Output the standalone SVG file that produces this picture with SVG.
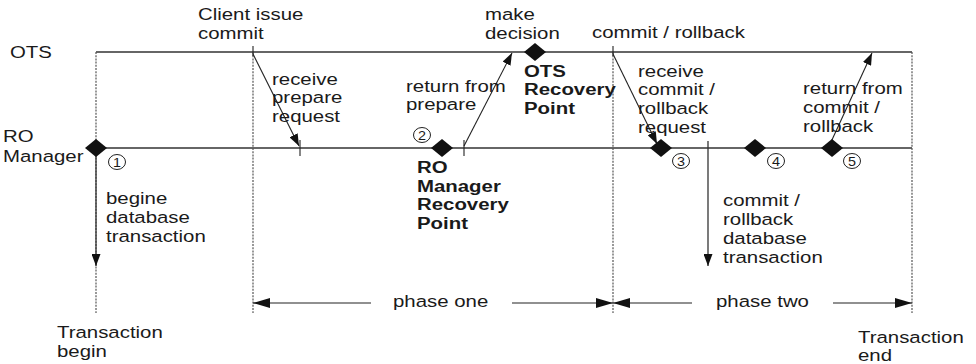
<svg xmlns="http://www.w3.org/2000/svg" width="976" height="364" viewBox="0 0 976 364">
  <style>
    text { font-family: "Liberation Sans", Arial, sans-serif; font-size: 17px; fill: #1a1a1a; }
    .b { font-weight: bold; }
    .num { font-size: 12.5px; text-anchor: middle; }
    .line { stroke: #333; stroke-width: 1.3; fill: none; }
    .thin { stroke: #222; stroke-width: 1.1; fill: none; }
    .dot { stroke: #555; stroke-width: 1.2; stroke-dasharray: 2 1.2; fill: none; }
    .dia { fill: #111; }
    .circ { fill: #fff; stroke: #222; stroke-width: 1; }
  </style>
  <defs>
    <marker id="ah" viewBox="0 0 12 9" refX="12" refY="4.5" markerWidth="12" markerHeight="9" markerUnits="userSpaceOnUse" orient="auto">
      <path d="M0,0 L12,4.5 L0,9 Z" fill="#111"/>
    </marker>
    <marker id="ahBig" viewBox="0 0 17 10" refX="17" refY="5" markerWidth="17" markerHeight="10" markerUnits="userSpaceOnUse" orient="auto">
      <path d="M0,0 L17,5 L0,10 Z" fill="#111"/>
    </marker>
  </defs>

  <!-- lanes -->
  <g id="lanes">
    <line class="line" x1="96" y1="52" x2="912" y2="52"/>
    <line class="line" x1="96" y1="148" x2="912" y2="148"/>
    <text transform="translate(10,58) scale(1.2,1)">OTS</text>
    <text transform="translate(3,142) scale(1.2,1)">RO</text>
    <text transform="translate(3,162) scale(1.2,1)">Manager</text>
  </g>

  <!-- time markers -->
  <g id="markers">
    <line class="dot" x1="96" y1="52" x2="96" y2="313"/>
    <line class="dot" x1="253" y1="52" x2="253" y2="313"/>
    <line class="dot" x1="613" y1="52" x2="613" y2="313"/>
    <line class="dot" x1="912" y1="52" x2="912" y2="313"/>
    <line class="thin" x1="253" y1="46" x2="253" y2="56"/>
    <line class="thin" x1="613" y1="46" x2="613" y2="56"/>
    <text transform="translate(57,338) scale(1.2,1)">Transaction</text>
    <text transform="translate(57,357) scale(1.2,1)">begin</text>
    <text transform="translate(858,343) scale(1.2,1)">Transaction</text>
    <text transform="translate(858,361) scale(1.2,1)">end</text>
  </g>

  <!-- connectors -->
  <g id="connectors">
    <line class="line" x1="96" y1="148" x2="96" y2="266" marker-end="url(#ah)"/>
    <line class="thin" x1="253" y1="54" x2="299" y2="146" marker-end="url(#ah)"/>
    <line class="thin" x1="300" y1="140" x2="300" y2="156"/>
    <line class="thin" x1="464" y1="146" x2="512" y2="53" marker-end="url(#ah)"/>
    <line class="thin" x1="464" y1="140" x2="464" y2="156"/>
    <line class="thin" x1="613" y1="54" x2="657" y2="144" marker-end="url(#ah)"/>
    <line class="line" x1="708" y1="141" x2="708" y2="266" marker-end="url(#ah)"/>
    <line class="thin" x1="831" y1="142" x2="872" y2="53" marker-end="url(#ah)"/>
    <line class="thin" x1="371" y1="303" x2="253" y2="303" marker-end="url(#ahBig)"/>
    <line class="thin" x1="512" y1="303" x2="613" y2="303" marker-end="url(#ahBig)"/>
    <line class="thin" x1="692" y1="303" x2="613" y2="303" marker-end="url(#ahBig)"/>
    <line class="thin" x1="833" y1="303" x2="912" y2="303" marker-end="url(#ahBig)"/>
  </g>

  <g id="phase-one"><text transform="translate(393,307) scale(1.2,1)">phase one</text></g>
  <g id="phase-two"><text transform="translate(716,307) scale(1.2,1)">phase two</text></g>

  <g id="client-commit">
    <text transform="translate(198,20) scale(1.2,1)">Client issue</text>
    <text transform="translate(198,39) scale(1.2,1)">commit</text>
  </g>
  <g id="receive-prepare">
    <text transform="translate(272,85) scale(1.2,1)">receive</text>
    <text transform="translate(272,103) scale(1.2,1)">prepare</text>
    <text transform="translate(272,122) scale(1.2,1)">request</text>
  </g>

  <g id="point-1">
    <path class="dia" d="M96,139 L107,148 L96,157 L85,148 Z"/>
    <ellipse class="circ" cx="117" cy="162" rx="8.5" ry="7.5"/>
    <text class="num" transform="translate(117,166.5) scale(1.15,1)">1</text>
    <text transform="translate(106,204) scale(1.2,1)">begine</text>
    <text transform="translate(106,223) scale(1.2,1)">database</text>
    <text transform="translate(106,242) scale(1.2,1)">transaction</text>
  </g>

  <g id="point-2">
    <path class="dia" d="M442,139 L453,148 L442,157 L431,148 Z"/>
    <ellipse class="circ" cx="422" cy="135" rx="8.5" ry="7.5"/>
    <text class="num" transform="translate(422,139.5) scale(1.15,1)">2</text>
    <text class="b" transform="translate(417,173) scale(1.2,1)">RO</text>
    <text class="b" transform="translate(417,192) scale(1.2,1)">Manager</text>
    <text class="b" transform="translate(417,210) scale(1.2,1)">Recovery</text>
    <text class="b" transform="translate(417,229) scale(1.2,1)">Point</text>
  </g>
  <g id="return-prepare">
    <text transform="translate(406,92) scale(1.2,1)">return from</text>
    <text transform="translate(406,110) scale(1.2,1)">prepare</text>
  </g>

  <g id="ots-decision">
    <path class="dia" d="M535,43 L546,52 L535,61 L524,52 Z"/>
    <text transform="translate(485,20) scale(1.2,1)">make</text>
    <text transform="translate(485,39) scale(1.2,1)">decision</text>
    <text class="b" transform="translate(524,77) scale(1.2,1)">OTS</text>
    <text class="b" transform="translate(524,95) scale(1.2,1)">Recovery</text>
    <text class="b" transform="translate(524,114) scale(1.2,1)">Point</text>
  </g>

  <g id="commit-rollback">
    <text transform="translate(592,38) scale(1.2,1)">commit / rollback</text>
    <text transform="translate(638,77) scale(1.2,1)">receive</text>
    <text transform="translate(638,95) scale(1.2,1)">commit /</text>
    <text transform="translate(638,114) scale(1.2,1)">rollback</text>
    <text transform="translate(638,133) scale(1.2,1)">request</text>
  </g>

  <g id="point-3">
    <path class="dia" d="M661,139 L672,148 L661,157 L650,148 Z"/>
    <ellipse class="circ" cx="681" cy="161" rx="8.5" ry="7.5"/>
    <text class="num" transform="translate(681,165.5) scale(1.15,1)">3</text>
  </g>
  <g id="db-commit">
    <text transform="translate(723,206) scale(1.2,1)">commit /</text>
    <text transform="translate(723,225) scale(1.2,1)">rollback</text>
    <text transform="translate(723,244) scale(1.2,1)">database</text>
    <text transform="translate(723,263) scale(1.2,1)">transaction</text>
  </g>
  <g id="point-4">
    <path class="dia" d="M755,139 L766,148 L755,157 L744,148 Z"/>
    <ellipse class="circ" cx="776" cy="161" rx="8.5" ry="7.5"/>
    <text class="num" transform="translate(776,165.5) scale(1.15,1)">4</text>
  </g>
  <g id="point-5">
    <path class="dia" d="M832,139 L843,148 L832,157 L821,148 Z"/>
    <ellipse class="circ" cx="852" cy="161" rx="8.5" ry="7.5"/>
    <text class="num" transform="translate(852,165.5) scale(1.15,1)">5</text>
    <text transform="translate(803,94) scale(1.2,1)">return from</text>
    <text transform="translate(803,113) scale(1.2,1)">commit /</text>
    <text transform="translate(803,132) scale(1.2,1)">rollback</text>
  </g>
</svg>
